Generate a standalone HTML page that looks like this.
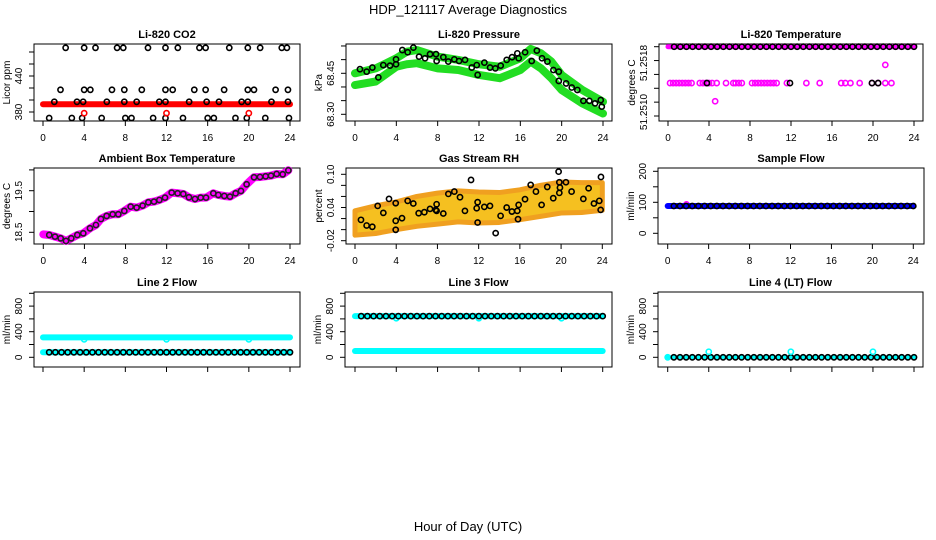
<!DOCTYPE html>
<html><head><meta charset="utf-8"><style>
html,body{margin:0;padding:0;background:#fff;}
svg{display:block;font-family:"Liberation Sans",Arial,sans-serif;}
</style></head><body>
<svg id="chart" width="936" height="540" viewBox="0 0 936 540">
<text x="468" y="14" text-anchor="middle" font-size="13">HDP_121117  Average Diagnostics</text>
<text x="468" y="531" text-anchor="middle" font-size="13">Hour of Day (UTC)</text>
</svg>
<script>
// ---- data ----
const hourGrid = []; for (let i = 1; i <= 40; i++) hourGrid.push(i * 0.6);
// CO2
const co2TopHours = [2.2,4.0,5.1,7.2,7.8,10.2,11.9,13.1,15.2,15.8,18.1,19.9,21.1,23.2,23.7];
const co2MidHours = [1.7,4.0,4.6,6.7,7.9,9.6,11.9,12.6,14.7,15.8,17.6,19.9,20.5,22.6,23.8];
const co2LowHours = [1.1,3.3,3.9,6.2,7.9,9.1,11.3,11.9,14.2,15.9,17.1,19.3,19.9,22.2,23.8];
const co2BotHours = [0.6,2.8,3.8,5.7,8.0,8.6,10.7,11.9,13.6,16.0,16.6,18.7,19.8,21.6,23.9];
const co2Levels = [487, 417, 397, 370];
const co2RedLine = [393, 393];
const co2RedHours = [4.0, 12.0, 20.0];
const co2RedValue = 378;
// Pressure
const presBandHours = [0,2,4,5,6,8,10,12,14,16,17,18,19,20,22,24];
const presUpper = [68.45,68.468,68.505,68.529,68.535,68.511,68.499,68.483,68.474,68.505,68.539,68.523,68.493,68.444,68.389,68.346];
const presLower = [68.407,68.42,68.474,68.483,68.487,68.468,68.462,68.444,68.432,68.462,68.493,68.468,68.432,68.389,68.34,68.303];
const presHours = [0.48,1.13,1.68,2.26,2.74,3.39,3.97,3.97,4.58,5.1,5.65,6.2,6.78,7.26,7.84,7.9,8.55,9.03,9.61,10.07,10.65,11.3,11.78,11.87,12.52,13.07,13.58,14.1,14.68,15.2,15.71,15.84,16.46,17.1,17.6,18.1,18.62,19.2,19.72,19.72,20.43,20.98,21.52,22.1,22.68,23.23,23.78,23.88];
const presVals = [68.465,68.456,68.471,68.435,68.48,68.478,68.483,68.501,68.535,68.527,68.544,68.511,68.505,68.52,68.52,68.495,68.509,68.493,68.501,68.495,68.499,68.471,68.48,68.444,68.489,68.471,68.468,68.478,68.499,68.509,68.523,68.505,68.527,68.495,68.533,68.505,68.493,68.462,68.456,68.422,68.413,68.398,68.389,68.349,68.349,68.34,68.352,68.328];
// Temperature
const tempTop = 51.2518;
const tempMid = 51.25138;
const tempMidPinkHours = [0.2,0.5,0.8,1.1,1.4,1.7,2.0,2.3,3.1,3.4,3.7,4.0,4.3,4.75,5.66,6.37,6.6,6.9,7.2,8.2,8.5,8.8,9.1,9.4,9.7,10.0,10.3,10.6,11.6,13.5,14.8,16.9,17.3,17.8,18.7,19.9,20.5,21.2,21.8];
const tempMidBlackHours = [3.8,11.9,19.9,20.5];
const tempOutHours = [4.6,1.8,21.2];
const tempOutVals = [51.25117,51.24998,51.25159];
// Ambient
const ambHours = [0,0.58,1.14,1.69,2.21,2.72,3.31,3.89,4.54,5.12,5.61,6.16,6.75,7.30,7.88,8.50,9.08,9.66,10.22,10.77,11.29,11.84,12.49,13.07,13.62,14.17,14.76,15.31,15.83,16.54,17.03,17.61,18.16,18.71,19.23,19.78,20.50,21.08,21.63,22.15,22.70,23.29,23.84];
const ambVals = [18.45,18.436,18.396,18.356,18.292,18.356,18.436,18.476,18.596,18.676,18.821,18.893,18.933,18.933,19.013,19.117,19.093,19.141,19.221,19.237,19.277,19.333,19.454,19.438,19.422,19.341,19.301,19.333,19.333,19.438,19.397,19.373,19.357,19.438,19.494,19.654,19.822,19.830,19.846,19.862,19.902,19.894,19.990];
// RH
const rhCloudHours = [0,2,4,6,8,10,12,14,16,18,20,22,24];
const rhCloudCenter = [0.012,0.018,0.025,0.033,0.038,0.042,0.040,0.040,0.045,0.052,0.058,0.058,0.060];
const rhCloudSpread = [0.022,0.025,0.025,0.027,0.028,0.028,0.028,0.027,0.027,0.028,0.028,0.027,0.025];
const rhHours = [0.58,1.13,1.68,2.2,2.75,3.3,3.95,3.95,3.95,4.56,5.11,5.66,6.18,6.73,7.28,7.83,7.92,7.92,8.57,9.06,9.64,10.19,10.67,11.26,11.81,11.9,11.9,12.55,13.1,13.65,14.13,14.72,15.23,15.75,15.82,15.88,16.5,17.05,17.56,18.11,18.66,19.24,19.76,19.83,19.83,19.89,20.47,21.02,22.16,22.67,23.19,23.71,23.84,23.87];
const rhVals = [0.0177,0.0075,0.0051,0.0429,0.0303,0.0556,0.0478,0.0159,-0.0003,0.0207,0.052,0.0472,0.0297,0.0315,0.0375,0.0357,0.0459,0.0339,0.0291,0.0646,0.0688,0.0586,0.0339,0.0898,0.0387,0.0496,0.0129,0.0411,0.0429,-0.0063,0.0249,0.0399,0.0327,0.0339,0.0189,0.0447,0.055,0.0808,0.0688,0.0447,0.0772,0.0568,0.1048,0.0856,0.0664,0.076,0.0856,0.0688,0.0556,0.0748,0.0472,0.052,0.0357,0.0952];
// flows
const sampleFlow = 88;
const line2High = 311, line2Low = 78, line2Dip = 280;
const line3High = 643, line3Low = 98, line3Dip = 610;
const line4Base = 0, line4Spike = 87;
const dipHours = [4, 12, 20];

// ---- drawing ----
const svg = document.getElementById('chart');
const NS = 'http://www.w3.org/2000/svg';
function el(tag, attrs, name, parent) {
  const e = document.createElementNS(NS, tag);
  for (const k in attrs) e.setAttribute(k, attrs[k]);
  
  
  (parent || svg).appendChild(e);
  return e;
}
function makePanel(c) {
  const g = el('g', {}, c.name);
  const sx = h => c.x0 + (c.x24 - c.x0) * h / 24;
  const sy = v => c.py1 + (v - c.v1) * (c.py2 - c.py1) / (c.v2 - c.v1);
  el('rect', {x: c.bx0, y: c.by0, width: c.bx1 - c.bx0, height: c.by1 - c.by0, fill: 'none', stroke: '#000', 'stroke-width': 1}, 'plot-frame', g);
  el('text', {x: (c.bx0 + c.bx1) / 2, y: c.by0 - 6, 'text-anchor': 'middle', 'font-size': 11, 'font-weight': 'bold'}, 'panel-title', g).textContent = c.title;
  for (let h = 0; h <= 24; h += 4) {
    el('line', {x1: sx(h), x2: sx(h), y1: c.by1, y2: c.by1 + 5, stroke: '#000'}, 'x-tick', g);
    if (c.xlabels) el('text', {x: sx(h), y: c.by1 + 20, 'text-anchor': 'middle', 'font-size': 10}, 'x-tick-label', g).textContent = h;
  }
  c.yticks.forEach(v => el('line', {x1: c.bx0 - 5, x2: c.bx0, y1: sy(v), y2: sy(v), stroke: '#000'}, 'y-tick', g));
  c.ylabels.forEach(l => {
    const yy = l.py !== undefined ? l.py : sy(l.v);
    el('text', {x: 0, y: 0, transform: `translate(${c.bx0 - 12},${yy}) rotate(-90)`, 'text-anchor': 'middle', 'font-size': 10}, 'y-tick-label', g).textContent = l.t;
  });
  el('text', {x: 0, y: 0, transform: `translate(${c.bx0 - 24},${(c.by0 + c.by1) / 2}) rotate(-90)`, 'text-anchor': 'middle', 'font-size': 10}, 'y-axis-title', g).textContent = c.ytitle;
  const clip = el('g', {}, 'plot-area', g);
  return {g: clip, sx, sy};
}
function dot(p, h, v, color, name, r) {
  el('circle', {cx: p.sx(h), cy: p.sy(v), r: r || 2.6, fill: 'none', stroke: color, 'stroke-width': 1.6}, name, p.g);
}
function band(p, hs, vs, color, w, name) {
  el('polyline', {points: hs.map((h, i) => p.sx(h) + ',' + p.sy(vs[i])).join(' '), fill: 'none', stroke: color, 'stroke-width': w, 'stroke-linejoin': 'round', 'stroke-linecap': 'round'}, name, p.g);
}

// Panel 1 CO2
let p = makePanel({name: 'panel-co2', title: 'Li-820 CO2', bx0: 34, by0: 44, bx1: 300, by1: 121, x0: 43, x24: 290, v1: 380, py1: 112, v2: 440, py2: 76, xlabels: true,
  yticks: [380,400,420,440,460,480], ylabels: [{v: 380, t: '380'}, {v: 440, t: '440'}], ytitle: 'Licor ppm'});
band(p, [0, 24], co2RedLine, '#ff0000', 6, 'co2-red-band');
[co2TopHours, co2MidHours, co2LowHours, co2BotHours].forEach((hs, k) => hs.forEach(h => dot(p, h, co2Levels[k], '#000', 'co2-point')));
co2RedHours.forEach(h => dot(p, h, co2RedValue, '#ff0000', 'co2-red-point'));

// Panel 2 Pressure
p = makePanel({name: 'panel-pressure', title: 'Li-820 Pressure', bx0: 346, by0: 44, bx1: 612, by1: 121, x0: 355, x24: 603, v1: 68.30, py1: 114.3, v2: 68.45, py2: 73.3, xlabels: true,
  yticks: [68.30,68.35,68.40,68.45,68.50,68.55], ylabels: [{v: 68.30, t: '68.30'}, {v: 68.45, t: '68.45'}], ytitle: 'kPa'});
band(p, presBandHours, presUpper, '#22dd22', 8, 'pressure-band-upper');
band(p, presBandHours, presLower, '#22dd22', 8, 'pressure-band-lower');
presHours.forEach((h, i) => dot(p, h, presVals[i], '#000', 'pressure-point'));

// Panel 3 Temperature
p = makePanel({name: 'panel-temperature', title: 'Li-820 Temperature', bx0: 659, by0: 44, bx1: 923, by1: 121, x0: 668, x24: 914, v1: 51.2510, py1: 116, v2: 51.2518, py2: 46.7, xlabels: true,
  yticks: [51.2518,51.25164,51.25148,51.25132,51.25116,51.2510], ylabels: [{py: 63, t: '51.2518'}, {py: 112, t: '51.2510'}], ytitle: 'degrees C'});
band(p, [0, 24], [tempTop, tempTop], '#ff00ff', 5, 'temperature-band-top');
hourGrid.forEach(h => dot(p, h, tempTop, '#000', 'temperature-point'));
tempMidPinkHours.forEach(h => dot(p, h, tempMid, '#ff00ff', 'temperature-pink-point'));
tempMidBlackHours.forEach(h => dot(p, h, tempMid, '#000', 'temperature-point'));
tempOutHours.forEach((h, i) => dot(p, h, tempOutVals[i], '#ff00ff', 'temperature-outlier'));

// Panel 4 Ambient
p = makePanel({name: 'panel-ambient', title: 'Ambient Box Temperature', bx0: 34, by0: 168, bx1: 300, by1: 244, x0: 43.3, x24: 290, v1: 18.5, py1: 232.3, v2: 19.5, py2: 190.7, xlabels: true,
  yticks: [18.5,19.0,19.5,20.0], ylabels: [{v: 18.5, t: '18.5'}, {v: 19.5, t: '19.5'}], ytitle: 'degrees C'});
band(p, ambHours, ambVals, '#ff00ff', 8, 'ambient-band');
ambHours.slice(1).forEach((h, i) => dot(p, h, ambVals[i + 1], '#222', 'ambient-point'));

// Panel 5 RH
p = makePanel({name: 'panel-rh', title: 'Gas Stream RH', bx0: 346, by0: 168, bx1: 612, by1: 244, x0: 355, x24: 602.3, v1: 0.10, py1: 174.3, v2: -0.02, py2: 240.7, xlabels: true,
  yticks: [-0.02,0,0.02,0.04,0.06,0.08,0.10], ylabels: [{v: 0.10, t: '0.10'}, {v: 0.04, t: '0.04'}, {v: -0.02, t: '-0.02'}], ytitle: 'percent'});
{
  const up = rhCloudHours.map((h, i) => p.sx(h) + ',' + p.sy(rhCloudCenter[i] + rhCloudSpread[i]));
  const dn = rhCloudHours.map((h, i) => p.sx(h) + ',' + p.sy(rhCloudCenter[i] - rhCloudSpread[i])).reverse();
  el('polygon', {points: up.concat(dn).join(' '), fill: '#f5c020', stroke: '#f0a020', 'stroke-width': 5, 'stroke-linejoin': 'round'}, 'rh-cloud', p.g);
}
rhHours.forEach((h, i) => dot(p, h, rhVals[i], '#000', 'rh-point'));

// Panel 6 Sample flow
p = makePanel({name: 'panel-sample-flow', title: 'Sample Flow', bx0: 658, by0: 168, bx1: 924, by1: 244, x0: 667.7, x24: 913.3, v1: 0, py1: 233.3, v2: 100, py2: 202.3, xlabels: true,
  yticks: [0,50,100,150,200], ylabels: [{v: 0, t: '0'}, {v: 100, t: '100'}, {v: 200, t: '200'}], ytitle: 'ml/min'});
band(p, [0, 24], [sampleFlow, sampleFlow], '#0000ff', 6, 'sample-flow-band');
hourGrid.forEach(h => dot(p, h, sampleFlow, '#000', 'sample-flow-point'));

// Row 3 flows
const flowY = {v1: 0, py1: 357.3, v2: 400, py2: 331.7, yticks: [0,200,400,600,800,1000], ylabels: [{v: 0, t: '0'}, {v: 400, t: '400'}, {v: 800, t: '800'}], ytitle: 'ml/min', xlabels: false};
p = makePanel(Object.assign({name: 'panel-line2-flow', title: 'Line 2 Flow', bx0: 34, by0: 292, bx1: 300, by1: 367, x0: 43, x24: 290}, flowY));
band(p, [0, 24], [line2High, line2High], '#00ffff', 6, 'line2-band-high');
band(p, [0, 24], [line2Low, line2Low], '#00ffff', 6, 'line2-band-low');
dipHours.forEach(h => dot(p, h, line2Dip, '#00ffff', 'line2-dip'));
hourGrid.forEach(h => dot(p, h, line2Low, '#000', 'line2-point'));

p = makePanel(Object.assign({name: 'panel-line3-flow', title: 'Line 3 Flow', bx0: 345, by0: 292, bx1: 612, by1: 367, x0: 355, x24: 602.7}, flowY));
band(p, [0, 24], [line3High, line3High], '#00ffff', 6, 'line3-band-high');
band(p, [0, 24], [line3Low, line3Low], '#00ffff', 6, 'line3-band-low');
dipHours.forEach(h => dot(p, h, line3Dip, '#00ffff', 'line3-dip'));
hourGrid.forEach(h => dot(p, h, line3High, '#000', 'line3-point'));

p = makePanel(Object.assign({name: 'panel-line4-flow', title: 'Line 4 (LT) Flow', bx0: 658, by0: 292, bx1: 923, by1: 367, x0: 667.7, x24: 914}, flowY));
band(p, [0, 24], [line4Base, line4Base], '#00ffff', 4, 'line4-band');
dot(p, 0, line4Base, '#00ffff', 'line4-cyan-point');
hourGrid.forEach(h => dot(p, h, line4Base, '#000', 'line4-point'));
dipHours.forEach(h => dot(p, h, line4Spike, '#00ffff', 'line4-spike'));
</script>
</body></html>
